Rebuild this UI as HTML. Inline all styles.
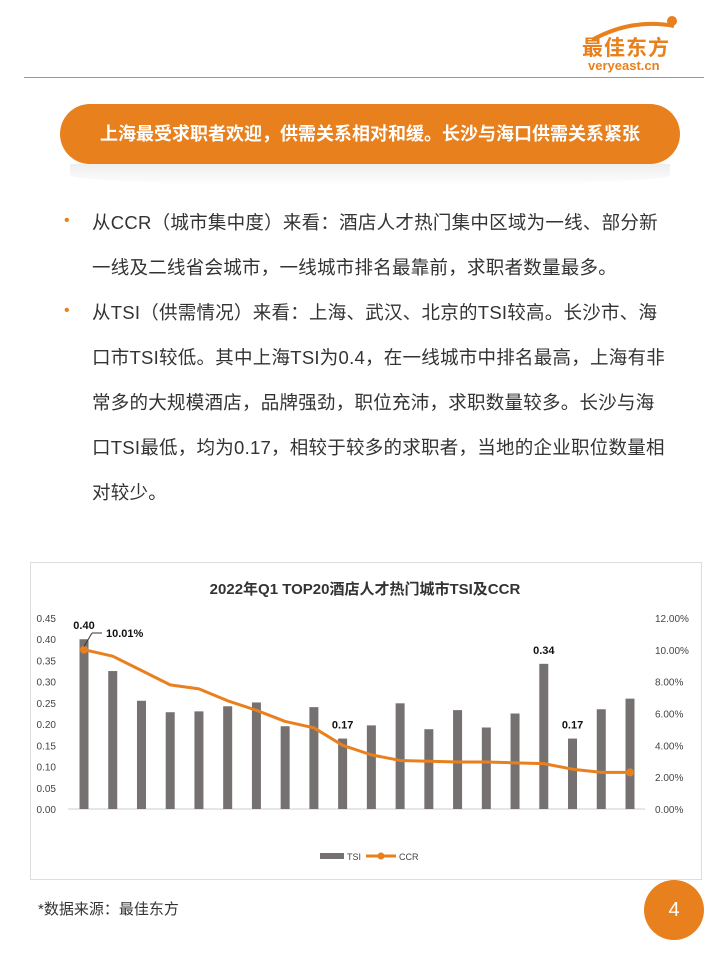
<!DOCTYPE html>
<html><head><meta charset="utf-8"><style>
body{margin:0;width:720px;height:960px;background:#fff;position:relative;font-family:"Liberation Sans","Noto Sans CJK SC",sans-serif;overflow:hidden}
.abs{position:absolute}
p.b{position:absolute;left:92px;margin:0;font-size:18.5px;line-height:45px;color:#333;white-space:nowrap;letter-spacing:0.25px}
.dot{position:absolute;left:64px;color:#e8801e;font-size:16px}
</style></head><body>
<div class="abs" style="left:582px;top:12px;width:110px;height:60px">
<svg width="110" height="30" style="position:absolute;left:0;top:0"><path d="M10 28 Q50 6 92 14" stroke="#e8801e" stroke-width="4" fill="none"/><circle cx="90" cy="9" r="5" fill="#e8801e"/></svg>
<div class="abs" style="left:0;top:20px;font-size:21px;font-weight:bold;color:#e8801e;letter-spacing:1px">最佳东方</div>
<div class="abs" style="left:6px;top:46px;font-size:13px;font-weight:bold;color:#e8801e">veryeast.cn</div>
</div>
<div class="abs" style="left:24px;top:77px;width:680px;height:1px;background:#999"></div>
<div class="abs" style="left:60px;top:104px;width:620px;height:60px;border-radius:30px;background:#e8801e;color:#fff;font-size:18px;font-weight:bold;line-height:60px;text-align:center">上海最受求职者欢迎，供需关系相对和缓。长沙与海口供需关系紧张</div>
<div class="abs" style="left:70px;top:164px;width:600px;height:22px;background:linear-gradient(#eee,#fff);border-radius:0 0 50% 50%"></div>
<span class="dot" style="top:212px">•</span>
<p class="b" style="top:200px">从CCR（城市集中度）来看：酒店人才热门集中区域为一线、部分新<br>一线及二线省会城市，一线城市排名最靠前，求职者数量最多。</p>
<span class="dot" style="top:302px">•</span>
<p class="b" style="top:290px">从TSI（供需情况）来看：上海、武汉、北京的TSI较高。长沙市、海<br>口市TSI较低。其中上海TSI为0.4，在一线城市中排名最高，上海有非<br>常多的大规模酒店，品牌强劲，职位充沛，求职数量较多。长沙与海<br>口TSI最低，均为0.17，相较于较多的求职者，当地的企业职位数量相<br>对较少。</p>
<div class="abs" style="left:30px;top:562px;width:670px;height:316px;border:1px solid #ddd"></div>
<svg id="ch" class="abs" style="left:0;top:0" width="720" height="960"></svg>
<div class="abs" style="left:38px;top:898px;font-size:15px;color:#333">*数据来源：最佳东方</div>
<div class="abs" style="left:644px;top:880px;width:60px;height:60px;border-radius:30px;background:#e8801e;color:#fff;font-size:20px;line-height:60px;text-align:center">4</div>
<script>
const tsi=[0.40,0.325,0.255,0.228,0.23,0.242,0.251,0.195,0.24,0.166,0.197,0.249,0.188,0.233,0.192,0.225,0.342,0.166,0.235,0.26];
const ccr=[10.01,9.6,8.7,7.8,7.55,6.8,6.2,5.5,5.1,4.0,3.4,3.05,3.0,2.95,2.95,2.9,2.85,2.5,2.3,2.3];
const leftTicks=["0.00","0.05","0.10","0.15","0.20","0.25","0.30","0.35","0.40","0.45"];
const rightTicks=["0.00%","2.00%","4.00%","6.00%","8.00%","10.00%","12.00%"];
const labelIdx=[0,9,16,17];
const NS="http://www.w3.org/2000/svg",svg=document.getElementById('ch');
const y0=809,y1=618;
const yL=v=>y0-(v/0.45)*(y0-y1), yR=v=>y0-(v/12)*(y0-y1), xc=i=>84+i*(546/19);
function mk(t,a,txt){const e=document.createElementNS(NS,t);for(const k in a)e.setAttribute(k,a[k]);if(txt!=null)e.textContent=txt;svg.appendChild(e);return e;}
let e=mk('text',{x:365,y:594,'text-anchor':'middle','font-size':15,'font-weight':'bold',fill:'#333'},'2022年Q1 TOP20酒店人才热门城市TSI及CCR');


leftTicks.forEach((t,i)=>{const e=mk('text',{x:56,y:yL(i*0.05)+4,'text-anchor':'end','font-size':10,fill:'#444'},t);

});
rightTicks.forEach((t,i)=>{const e=mk('text',{x:655,y:yR(i*2)+4,'font-size':10,fill:'#444'},t);

});
mk('line',{x1:68,x2:645,y1:y0,y2:y0,stroke:'#ccc'});
tsi.forEach((v,i)=>{const e=mk('rect',{x:xc(i)-4.5,y:yL(v),width:9,height:y0-yL(v),fill:'#767171'});

});
let d=ccr.map((v,i)=>(i?'L':'M')+xc(i)+' '+yR(v)).join(' ');
e=mk('path',{d:d,fill:'none',stroke:'#e8801e','stroke-width':3,'stroke-linejoin':'round'});


[0,ccr.length-1].forEach(i=>mk('circle',{cx:xc(i),cy:yR(ccr[i]),r:4,fill:'#e8801e'}));
labelIdx.forEach(i=>{const e=mk('text',{x:xc(i),y:yL(tsi[i])-10,'text-anchor':'middle','font-size':11,'font-weight':'bold',fill:'#111'},tsi[i].toFixed(2));

});
mk('line',{x1:xc(0),y1:yR(ccr[0])-3,x2:xc(0)+8,y2:633,stroke:'#333'});
mk('line',{x1:xc(0)+8,y1:633,x2:xc(0)+18,y2:633,stroke:'#333'});
e=mk('text',{x:xc(0)+22,y:637,'font-size':11,'font-weight':'bold',fill:'#111'},ccr[0].toFixed(2)+'%');


mk('rect',{x:320,y:853,width:24,height:6,fill:'#767171'});
e=mk('text',{x:347,y:860,'font-size':9,fill:'#444'},'TSI');


mk('line',{x1:366,x2:396,y1:856,y2:856,stroke:'#e8801e','stroke-width':3});
mk('circle',{cx:381,cy:856,r:3.5,fill:'#e8801e'});
e=mk('text',{x:399,y:860,'font-size':9,fill:'#444'},'CCR');


</script>
</body></html>
